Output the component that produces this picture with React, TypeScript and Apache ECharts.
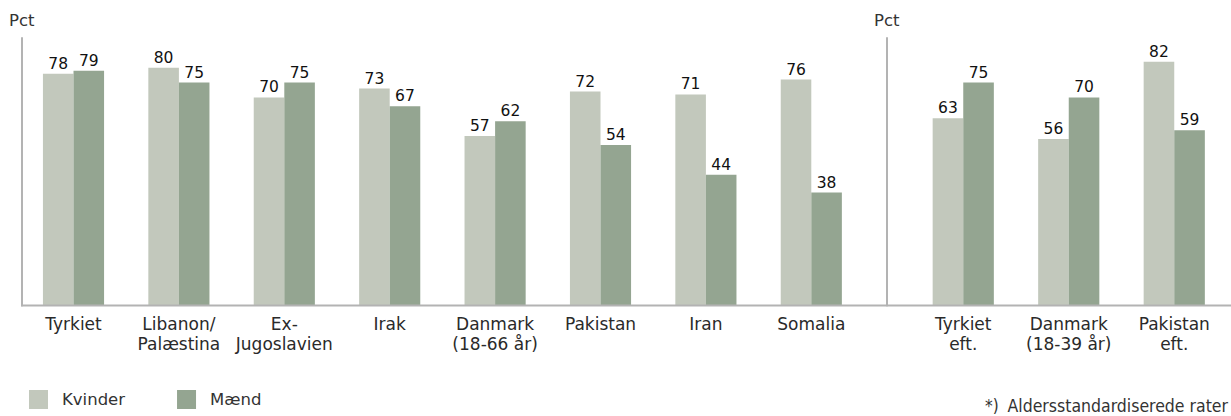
import React, { useEffect, useRef } from "react";
import * as echarts from "echarts";

const leftCategories = [
  "Tyrkiet",
  "Libanon/\nPalæstina",
  "Ex-\nJugoslavien",
  "Irak",
  "Danmark\n(18-66 år)",
  "Pakistan",
  "Iran",
  "Somalia",
];
const leftKvinder = [78, 80, 70, 73, 57, 72, 71, 76];
const leftMaend = [79, 75, 75, 67, 62, 54, 44, 38];

const rightCategories = ["Tyrkiet\neft.", "Danmark\n(18-39 år)", "Pakistan\neft."];
const rightKvinder = [63, 56, 82];
const rightMaend = [75, 70, 59];

const seriesNames = ["Kvinder", "Mænd"];
const yAxisLabel = "Pct";
const footnoteMark = "*)";
const footnoteText = "Aldersstandardiserede rater";

const COL_K = "#c2c8bc";
const COL_M = "#94a591";
const AXIS = "#b3b3b3";
const FONT = "'DejaVu Sans', sans-serif";
const FONT_COND = "'DejaVu Sans Condensed', 'DejaVu Sans', sans-serif";

export default function App() {
  const ref = useRef<HTMLDivElement>(null);
  useEffect(() => {
    if (!ref.current) return;
    const chart = echarts.init(ref.current, undefined, { renderer: "svg" });
    const label = {
      show: true,
      position: "top" as const,
      distance: 2,
      color: "#111",
      fontSize: 15.5,
      fontFamily: FONT,
    };
    const xAxisCommon = {
      type: "category" as const,
      axisLine: { show: false },
      axisTick: { show: false },
      axisLabel: {
        interval: 0,
        color: "#2a2a2a",
        fontSize: 17,
        fontFamily: FONT,
        margin: 8,
        lineHeight: 20,
      },
    };
    const yAxisCommon = {
      type: "value" as const,
      min: 0,
      max: 90,
      axisLine: { show: true, lineStyle: { color: AXIS, width: 2 } },
      axisTick: { show: false },
      axisLabel: { show: false },
      splitLine: { show: false },
    };
    const barCommon = {
      type: "bar" as const,
      barGap: "0%",
      barCategoryGap: "42%",
      label,
    };
    chart.setOption({
      animation: false,
      grid: [
        { left: 20.8, width: 843.2, top: 38, bottom: 110.5 },
        { left: 910.5, width: 316.5, top: 38, bottom: 110.5 },
      ],
      xAxis: [
        { ...xAxisCommon, gridIndex: 0, data: leftCategories },
        { ...xAxisCommon, gridIndex: 1, data: rightCategories },
      ],
      yAxis: [
        { ...yAxisCommon, gridIndex: 0, offset: -1 },
        { ...yAxisCommon, gridIndex: 1, offset: 23.5 },
      ],
      legend: {
        data: seriesNames,
        left: 24,
        top: 385,
        itemWidth: 19,
        itemHeight: 19,
        itemGap: 52,
        icon: "rect",
        textStyle: {
          color: "#333",
          fontSize: 16.5,
          fontFamily: FONT,
          padding: [0, 0, 0, 9],
        },
      },
      series: [
        { ...barCommon, name: seriesNames[0], xAxisIndex: 0, yAxisIndex: 0, data: leftKvinder, itemStyle: { color: COL_K } },
        { ...barCommon, name: seriesNames[1], xAxisIndex: 0, yAxisIndex: 0, data: leftMaend, itemStyle: { color: COL_M } },
        { ...barCommon, name: seriesNames[0], xAxisIndex: 1, yAxisIndex: 1, data: rightKvinder, itemStyle: { color: COL_K } },
        { ...barCommon, name: seriesNames[1], xAxisIndex: 1, yAxisIndex: 1, data: rightMaend, itemStyle: { color: COL_M } },
      ],
      graphic: [
        {
          type: "line",
          shape: { x1: 21, y1: 305.5, x2: 1231, y2: 305.5 },
          style: { stroke: AXIS, lineWidth: 2 },
          z: 10,
        },
        {
          type: "text",
          left: 9,
          top: 12,
          style: { text: yAxisLabel, fill: "#333", fontSize: 16.5, fontFamily: FONT },
        },
        {
          type: "text",
          left: 874,
          top: 12,
          style: { text: yAxisLabel, fill: "#333", fontSize: 16.5, fontFamily: FONT },
        },
        {
          type: "text",
          left: 985,
          top: 397,
          style: { text: footnoteMark, fill: "#333", fontSize: 17, fontFamily: FONT_COND },
        },
        {
          type: "text",
          right: 3,
          top: 397,
          style: { text: footnoteText, fill: "#333", fontSize: 17.5, fontFamily: FONT_COND },
        },
      ],
    });
    return () => chart.dispose();
  }, []);
  return <div ref={ref} style={{ width: 1231, height: 416, position: "absolute", left: 0, top: 0 }} />;
}
